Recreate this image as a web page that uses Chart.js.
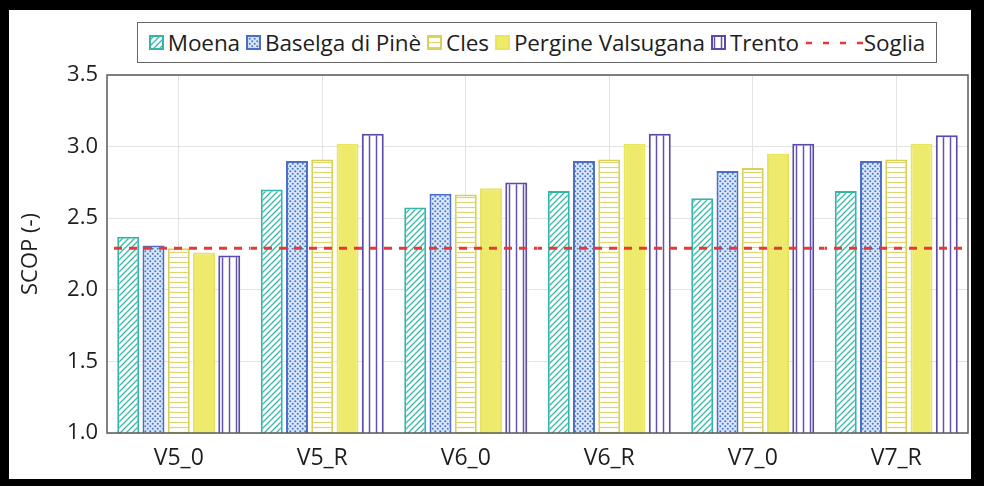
<!DOCTYPE html>
<html><head><meta charset="utf-8">
<script src="https://cdn.jsdelivr.net/npm/chart.js@4.4.1/dist/chart.umd.min.js"></script>
<style>
html,body{margin:0;padding:0;background:#000;width:984px;height:486px;overflow:hidden}
#frame{position:absolute;left:9px;top:10px;width:962px;height:469px;background:#fff}
#c{position:absolute;left:0;top:0}
#legend{position:absolute;left:128px;top:12px;width:800px;height:41px;box-sizing:border-box;border:1.5px solid #666;display:flex;align-items:center;justify-content:center;font-family:'Open Sans',sans-serif;font-size:22.5px;color:#1e1e1e;white-space:nowrap;background:#fff;letter-spacing:-0.1px}
.item{display:flex;align-items:center;margin:0 3px}
.item canvas{margin-right:4px}
</style></head><body>
<div id="frame"><canvas id="c" width="962" height="469"></canvas><div id="legend"></div></div>
<script>
const categories = ['V5_0','V5_R','V6_0','V6_R','V7_0','V7_R'];
const seriesNames = ['Moena','Baselga di Pinè','Cles','Pergine Valsugana','Trento'];
const moena   = [2.37, 2.70, 2.575, 2.69, 2.64, 2.69];
const baselga = [2.31, 2.90, 2.67,  2.90, 2.83, 2.90];
const cles    = [2.29, 2.91, 2.665, 2.91, 2.85, 2.91];
const pergine = [2.26, 3.02, 2.71,  3.02, 2.95, 3.02];
const trento  = [2.24, 3.09, 2.75,  3.09, 3.02, 3.08];
const thresholdName = 'Soglia';
const soglia = [2.3, 2.3, 2.3, 2.3, 2.3, 2.3];
const yTicks = [1.0, 1.5, 2.0, 2.5, 3.0, 3.5];
const yTitle = 'SCOP (-)';

const FONT = "'Open Sans', sans-serif";
const canvas = document.getElementById('c');
const mainCtx = canvas.getContext('2d');

function tile(w, h, draw, bg) {
  const t = document.createElement('canvas');
  t.width = w; t.height = h;
  const g = t.getContext('2d');
  if (bg) { g.fillStyle = bg; g.fillRect(0, 0, w, h); }
  draw(g, w, h);
  return mainCtx.createPattern(t, 'repeat');
}
const styles = [
  { border: '#35b5a7', fill: tile(6, 6, (g, w, h) => { g.strokeStyle = '#3dbdae'; g.lineWidth = 1.4;
      g.beginPath(); g.moveTo(0, h); g.lineTo(w, 0); g.moveTo(-1, 1); g.lineTo(1, -1); g.moveTo(w - 1, h + 1); g.lineTo(w + 1, h - 1); g.stroke(); }, '#fff') },
  { border: '#4a6fc4', fill: tile(5, 5, (g) => { g.fillStyle = 'rgba(150,185,235,0.35)'; g.fillRect(0, 0, 5, 5);
      g.fillStyle = '#4a78cf';
      g.beginPath(); g.arc(1.25, 1.25, 1.05, 0, Math.PI * 2); g.arc(3.75, 3.75, 1.05, 0, Math.PI * 2); g.fill(); }, '#fff') },
  { border: '#d8d05a', fill: tile(5, 5, (g, w) => { g.strokeStyle = '#ddd66e'; g.lineWidth = 1.2;
      g.beginPath(); g.moveTo(0, 2.5); g.lineTo(w, 2.5); g.stroke(); }, '#fff') },
  { border: '#e9e45c', fill: '#eeea6c' },
  { border: '#5a4bab', fill: tile(7, 4, (g, w, h) => { g.strokeStyle = '#6152b3'; g.lineWidth = 1.5;
      g.beginPath(); g.moveTo(3.5, 0); g.lineTo(3.5, h); g.stroke(); }, '#fff') }
];
// red dashed stroke used for the threshold ("Soglia") line
const dashPattern = tile(15, 1, (g) => { g.fillStyle = '#e53935'; g.fillRect(0, 0, 8, 1); });
const seriesValues = [moena, baselga, cles, pergine, trento];

const barSets = seriesValues.map((vals, i) => ({
  type: 'bar', label: seriesNames[i], data: vals,
  backgroundColor: styles[i].fill, borderColor: styles[i].border, borderWidth: 2,
  categoryPercentage: 0.88, barPercentage: 0.87, order: 1
}));
// threshold: full-width, ungrouped bars whose top edge is drawn dashed
const thresholdSet = {
  type: 'bar', label: thresholdName, data: soglia, grouped: false,
  categoryPercentage: 1, barPercentage: 1,
  backgroundColor: 'rgba(0,0,0,0)', borderColor: dashPattern,
  borderWidth: { top: 2.5, left: 0, right: 0, bottom: 0 }, borderSkipped: false, order: 0
};

const framePlugin = {
  id: 'frame',
  afterDatasetsDraw(chart) {
    const { ctx, chartArea: a } = chart;
    ctx.save(); ctx.strokeStyle = '#5a5a5a'; ctx.lineWidth = 1.5;
    ctx.strokeRect(a.left, a.top, a.right - a.left, a.bottom - a.top);
    ctx.restore();
  }
};

new Chart(canvas, {
  type: 'bar',
  data: { labels: categories, datasets: [...barSets, thresholdSet] },
  options: {
    responsive: false, animation: false, devicePixelRatio: 1,
    layout: { padding: { top: 65, right: 3, left: 0, bottom: 0 } },
    plugins: { legend: { display: false }, tooltip: { enabled: false } },
    scales: {
      x: {
        type: 'category', offset: true,
        grid: { offset: false, color: '#e3e3e3', lineWidth: 1, drawTicks: false },
        border: { display: false },
        ticks: { font: { family: FONT, size: 23 }, color: '#1e1e1e', padding: 12 },
        afterFit: s => { s.height = 46; }
      },
      y: {
        min: 1, max: 3.5,
        afterBuildTicks: s => { s.ticks = yTicks.map(v => ({ value: v })); },
        grid: { color: '#e3e3e3', lineWidth: 1, drawTicks: false },
        border: { display: false },
        ticks: { font: { family: FONT, size: 22 }, color: '#1e1e1e', padding: 9, callback: v => Number(v).toFixed(1) },
        title: { display: true, text: yTitle, font: { family: FONT, size: 22 }, color: '#1e1e1e', padding: { top: 9, bottom: 0 } },
        afterFit: s => { s.width = 98; }
      }
    }
  },
  plugins: [framePlugin]
});

const legend = document.getElementById('legend');
seriesNames.forEach((name, i) => {
  const it = document.createElement('div'); it.className = 'item';
  const sw = document.createElement('canvas'); sw.width = 15; sw.height = 15;
  const g = sw.getContext('2d');
  g.fillStyle = styles[i].fill; g.fillRect(0, 0, 15, 15);
  g.strokeStyle = styles[i].border; g.lineWidth = 2; g.strokeRect(1, 1, 13, 13);
  const tx = document.createElement('span'); tx.textContent = name;
  it.appendChild(sw); it.appendChild(tx); legend.appendChild(it);
});
{
  const it = document.createElement('div'); it.className = 'item';
  const sw = document.createElement('canvas'); sw.width = 58; sw.height = 15;
  const g = sw.getContext('2d');
  g.strokeStyle = '#e53935'; g.lineWidth = 2.5; g.setLineDash([6, 11]);
  g.beginPath(); g.moveTo(1, 8); g.lineTo(58, 8); g.stroke();
  sw.style.marginRight = '1px';
  const tx = document.createElement('span'); tx.textContent = thresholdName;
  it.appendChild(sw); it.appendChild(tx); legend.appendChild(it);
}
</script>
</body></html>
